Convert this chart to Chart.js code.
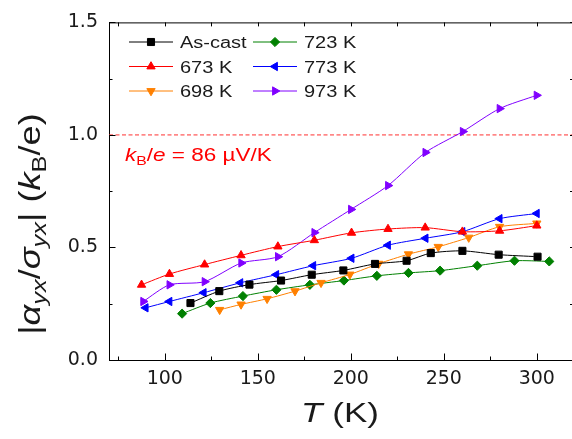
<!DOCTYPE html>
<html>
<head>
<meta charset="utf-8">
<script src="https://cdn.jsdelivr.net/npm/chart.js@4.4.1/dist/chart.umd.min.js"></script>
<style>
html, body { margin: 0; padding: 0; background: #fff; overflow: hidden; }
canvas { display: block; }
</style>
</head>
<body>
<canvas id="graficoAlfa" width="580" height="439"></canvas>
<script>
// valores (T em K, |a/s| em kB/e)

const tAsCast = [113.8, 129.3, 145.5, 162.5, 179, 196, 213, 230, 243, 260, 279.5, 300.4]
const vAsCast = [0.253, 0.306, 0.335, 0.353, 0.379, 0.398, 0.427, 0.441, 0.475, 0.485, 0.468, 0.459]

const t673 = [87.5, 102.5, 121.4, 141, 160.8, 180.4, 200.4, 220, 240, 260, 280, 300]
const v673 = [0.334, 0.382, 0.424, 0.465, 0.504, 0.532, 0.565, 0.582, 0.588, 0.570, 0.574, 0.597]

const t698 = [129.5, 141, 155, 170, 184, 199.5, 215, 231, 247, 263.4, 280, 300]
const v698 = [0.223, 0.247, 0.272, 0.306, 0.343, 0.380, 0.428, 0.470, 0.503, 0.544, 0.592, 0.607]

const t723 = [109.3, 124.5, 142, 160, 178, 196.3, 214, 231, 248, 268, 288, 306.7]
const v723 = [0.206, 0.253, 0.284, 0.312, 0.334, 0.353, 0.374, 0.387, 0.397, 0.419, 0.441, 0.438]

const t773 = [89.7, 102.5, 120.9, 140.6, 159.9, 179.8, 200.4, 220, 240.2, 260, 280, 300]
const v773 = [0.232, 0.260, 0.299, 0.343, 0.379, 0.419, 0.452, 0.510, 0.541, 0.570, 0.628, 0.651]

const t973 = [88.4, 102.5, 121.4, 141.1, 160.8, 180.4, 200.1, 220, 240.1, 260.2, 280, 299.9]
const v973 = [0.260, 0.334, 0.348, 0.431, 0.459, 0.566, 0.669, 0.775, 0.922, 1.015, 1.117, 1.176]

// linha kB/e
const tLinhaKb = [70, 320]
const vLinhaKb = [1.0, 1.0]

const xMajor = [100, 150, 200, 250, 300]
const xMinor = [75, 125, 175, 225, 275]
const yMajor = [0.0, 0.5, 1.0, 1.5]
const yMinor = [0.25, 0.75, 1.25]

const series = [
    { label: 'As-cast', t: tAsCast, v: vAsCast, cor: '#000000', estilo: 'rect', rot: 0, raio: 5 },
    { label: '673 K', t: t673, v: v673, cor: '#ff0000', estilo: 'triangle', rot: 0, raio: 4.8 },
    { label: '698 K', t: t698, v: v698, cor: '#ff8000', estilo: 'triangle', rot: 180, raio: 4.8 },
    { label: '723 K', t: t723, v: v723, cor: '#008000', estilo: 'rectRot', rot: 0, raio: 4.6 },
    { label: '773 K', t: t773, v: v773, cor: '#0000ff', estilo: 'triangle', rot: -90, raio: 4.8 },
    { label: '973 K', t: t973, v: v973, cor: '#8000ff', estilo: 'triangle', rot: 90, raio: 4.8 }
]

const SX = 1.25
const FONTE = '"Liberation Sans", Arial, sans-serif'

function fontePara(p, size) {
    return (p.i ? 'italic ' : '') + (p.s ? size * 0.7 : size) + 'px ' + FONTE
}

// texto com sub-indices, esticado na horizontal como no original
function escrever(ctx, partes, size, x, y, ang, centro, cor) {
    ctx.save()
    ctx.translate(x, y)
    ctx.rotate(ang)
    ctx.scale(SX, 1)
    ctx.textAlign = 'left'
    ctx.textBaseline = 'alphabetic'
    ctx.fillStyle = cor
    let w = 0
    for (const p of partes) {
        ctx.font = fontePara(p, size)
        w += ctx.measureText(p.t).width
    }
    let cx = centro ? -w / 2 : 0
    for (const p of partes) {
        ctx.font = fontePara(p, size)
        ctx.fillText(p.t, cx, p.s ? size * 0.22 : 0)
        cx += ctx.measureText(p.t).width
    }
    ctx.restore()
}

const decoracao = {
    id: 'decoracao',
    afterDraw(chart) {
        const ctx = chart.ctx
        const xs = chart.scales.x
        const ys = chart.scales.y
        const a = chart.chartArea

        // moldura de cima e da direita
        ctx.save()
        ctx.strokeStyle = '#000'
        ctx.lineWidth = 1
        ctx.beginPath()
        ctx.moveTo(a.left, a.top + 0.5)
        ctx.lineTo(a.right, a.top + 0.5)
        ctx.moveTo(a.right - 0.5, a.top)
        ctx.lineTo(a.right - 0.5, a.bottom)
        ctx.stroke()

        // ticks para dentro
        ctx.beginPath()
        for (const v of xMajor.concat(xMinor)) {
            const px = Math.round(xs.getPixelForValue(v)) + 0.5
            const len = xMajor.includes(v) ? 6.5 : 3.5
            ctx.moveTo(px, a.bottom)
            ctx.lineTo(px, a.bottom - len)
            ctx.moveTo(px, a.top)
            ctx.lineTo(px, a.top + 4)
        }
        for (const v of yMajor.concat(yMinor)) {
            const py = Math.round(ys.getPixelForValue(v)) + 0.5
            const len = yMajor.includes(v) ? 6.5 : 3.5
            ctx.moveTo(a.left, py)
            ctx.lineTo(a.left + len, py)
            ctx.moveTo(a.right, py)
            ctx.lineTo(a.right - 4, py)
        }
        ctx.stroke()
        ctx.restore()

        // legenda
        series.forEach((s, i) => {
            const col = Math.floor(i / 3)
            const lin = i % 3
            const x0 = col === 0 ? 129 : 253
            const y0 = [42, 66.5, 91][lin]
            ctx.save()
            ctx.strokeStyle = s.cor
            ctx.lineWidth = 1
            ctx.beginPath()
            ctx.moveTo(x0, y0)
            ctx.lineTo(x0 + 44, y0)
            ctx.stroke()
            ctx.fillStyle = s.cor
            Chart.helpers.drawPoint(ctx, { pointStyle: s.estilo, rotation: s.rot, radius: s.raio, borderWidth: 1 }, x0 + 22, y0)
            ctx.restore()
            escrever(ctx, [{ t: s.label }], 16, x0 + 51, y0 + 6, 0, false, '#1a1a1a')
        })

        // anotacao kB/e
        escrever(ctx, [
            { t: 'k', i: 1 }, { t: 'B', s: 1 }, { t: '/' }, { t: 'e', i: 1 }, { t: ' = 86 \u00b5V/K' }
        ], 18, 125, 161, 0, false, '#ff0000')

        // titulo eixo x
        escrever(ctx, [{ t: 'T', i: 1 }, { t: ' (K)' }], 28, 340, 422, 0, true, '#1a1a1a')

        // titulo eixo y
        escrever(ctx, [
            { t: '|' }, { t: '\u03b1', i: 1 }, { t: 'yx', s: 1, i: 1 }, { t: '/' },
            { t: '\u03c3', i: 1 }, { t: 'yx', s: 1, i: 1 }, { t: '| (' },
            { t: 'k', i: 1 }, { t: 'B', s: 1 }, { t: '/e)' }
        ], 29, 40, 224, -Math.PI / 2, true, '#1a1a1a')
    }
}

const datasets = series.map(s => ({
    label: s.label,
    data: s.t.map((t, i) => ({ x: t, y: s.v[i] })),
    borderColor: s.cor,
    backgroundColor: s.cor,
    borderWidth: 1,
    tension: 0.25,
    pointStyle: s.estilo,
    pointRotation: s.rot,
    pointRadius: s.raio,
    pointBorderWidth: 1,
    pointBackgroundColor: s.cor,
    pointBorderColor: s.cor
}))

datasets.push({
    label: 'kB/e',
    data: tLinhaKb.map((t, i) => ({ x: t, y: vLinhaKb[i] })),
    borderColor: '#ff3030',
    borderWidth: 1,
    borderDash: [4, 2.5],
    pointRadius: 0,
    order: 10
})

const ctxA = document.getElementById('graficoAlfa')

new Chart(ctxA, {
    type: 'line',
    data: { datasets: datasets },
    options: {
        responsive: false,
        animation: false,
        devicePixelRatio: 1,
        layout: { padding: { left: 0, right: 5, top: 20, bottom: 0 } },
        plugins: {
            legend: { display: false },
            tooltip: { enabled: false }
        },
        scales: {
            x: {
                type: 'linear',
                min: 70,
                max: 320,
                afterBuildTicks: s => { s.ticks = xMajor.map(v => ({ value: v })) },
                afterFit: s => { s.height = 79 },
                grid: { display: true, drawOnChartArea: false, drawTicks: false },
                border: { display: true, color: '#000', width: 1 },
                ticks: {
                    padding: 8,
                    color: '#1a1a1a',
                    font: { family: '"DejaVu Sans"', size: 19 },
                    maxRotation: 0,
                    callback: v => v
                }
            },
            y: {
                type: 'linear',
                min: 0,
                max: 1.5,
                afterBuildTicks: s => { s.ticks = yMajor.map(v => ({ value: v })) },
                afterFit: s => { s.width = 109 },
                grid: { display: true, drawOnChartArea: false, drawTicks: false },
                border: { display: true, color: '#000', width: 1 },
                ticks: {
                    padding: 11,
                    color: '#1a1a1a',
                    font: { family: '"DejaVu Sans"', size: 19 },
                    callback: v => v.toFixed(1)
                }
            }
        }
    },
    plugins: [decoracao]
})
</script>
</body>
</html>
